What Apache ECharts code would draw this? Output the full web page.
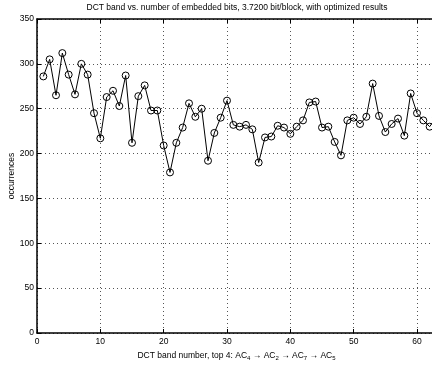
<!DOCTYPE html>
<html>
<head>
<meta charset="utf-8">
<script src="https://cdn.jsdelivr.net/npm/echarts@6/dist/echarts.min.js"></script>
<style>
  html, body { margin: 0; padding: 0; background: #fff; }
  #chart { width: 432px; height: 365px; }
</style>
</head>
<body>
<div id="chart"></div>
<script>
// DCT band index and occurrences
var bands = [];
for (var i = 1; i <= 63; i++) bands.push(i);
var occurrences = [
  286, 305, 265, 312, 288, 266, 300, 288, 245, 217,
  263, 270, 253, 287, 212, 264, 276, 248, 248, 209,
  179, 212, 229, 256, 241, 250, 192, 223, 240, 259,
  232, 230, 232, 227, 190, 218, 219, 231, 229, 222,
  230, 237, 257, 258, 229, 230, 213, 198, 237, 240,
  233, 241, 278, 242, 224, 233, 239, 220, 267, 245,
  237, 230, 240
];
var xTicks = [0, 10, 20, 30, 40, 50, 60];

var points = bands.map(function (b, i) { return [b, occurrences[i]]; });

var font = 'Liberation Sans, Arial, Helvetica, sans-serif';
var chart = echarts.init(document.getElementById('chart'));
chart.setOption({
  animation: false,
  backgroundColor: '#fff',
  title: {
    text: 'DCT band vs. number of embedded bits, 3.7200 bit/block, with optimized results',
    left: 237,
    textAlign: 'center',
    top: 3,
    padding: 0,
    textStyle: { fontSize: 8.5, fontWeight: 'normal', color: '#000', fontFamily: font }
  },
  grid: { left: 37, right: -4, top: 19, bottom: 32, containLabel: false, outerBoundsMode: 'none' },
  xAxis: [{
    type: 'value',
    min: 0,
    max: 63,
    interval: 10,
    name: '{t|DCT band number, top 4: AC}{s|4}{t| → AC}{s|2}{t| → AC}{s|7}{t| → AC}{s|5}',
    nameLocation: 'middle',
    nameGap: 12,
    nameTextStyle: {
      rich: {
        t: { fontSize: 8.5, color: '#000', fontFamily: font },
        s: { fontSize: 6, color: '#000', fontFamily: font, padding: [6, 0, 0, 0] }
      }
    },
    axisLine: { lineStyle: { color: '#000', width: 1.5 } },
    axisTick: { inside: true, length: 4, lineStyle: { color: '#000' } },
    axisLabel: {
      color: '#000', fontSize: 8.5, fontFamily: font, margin: 4,
      formatter: function (v) { return xTicks.indexOf(v) >= 0 ? String(v) : ''; }
    },
    splitLine: { show: true, lineStyle: { color: '#555', type: [1, 3], width: 1 } }
  }, {
    type: 'value',
    position: 'top',
    min: 0,
    max: 63,
    interval: 10,
    axisLine: { lineStyle: { color: '#000', width: 1.5 } },
    axisTick: { inside: true, length: 4, lineStyle: { color: '#000' } },
    axisLabel: { show: false },
    splitLine: { show: false }
  }],
  yAxis: [{
    type: 'value',
    min: 0,
    max: 350,
    interval: 50,
    name: 'occurrences',
    nameLocation: 'middle',
    nameGap: 25,
    nameMoveOverlap: false,
    nameTextStyle: { fontSize: 8.5, color: '#000', fontFamily: font, verticalAlign: 'middle' },
    axisLine: { show: true, lineStyle: { color: '#000', width: 1.5 } },
    axisTick: { show: true, inside: true, length: 4, lineStyle: { color: '#000' } },
    axisLabel: { color: '#000', fontSize: 8.5, fontFamily: font, margin: 3 },
    splitLine: { show: true, lineStyle: { color: '#555', type: [1, 3], width: 1 } }
  }],
  series: [{
    type: 'line',
    data: points,
    symbol: 'circle',
    symbolSize: 7,
    showAllSymbol: true,
    lineStyle: { color: '#000', width: 1 },
    itemStyle: { color: 'rgba(0,0,0,0)', borderColor: '#000', borderWidth: 1 },
    clip: true
  }]
});
</script>
</body>
</html>
